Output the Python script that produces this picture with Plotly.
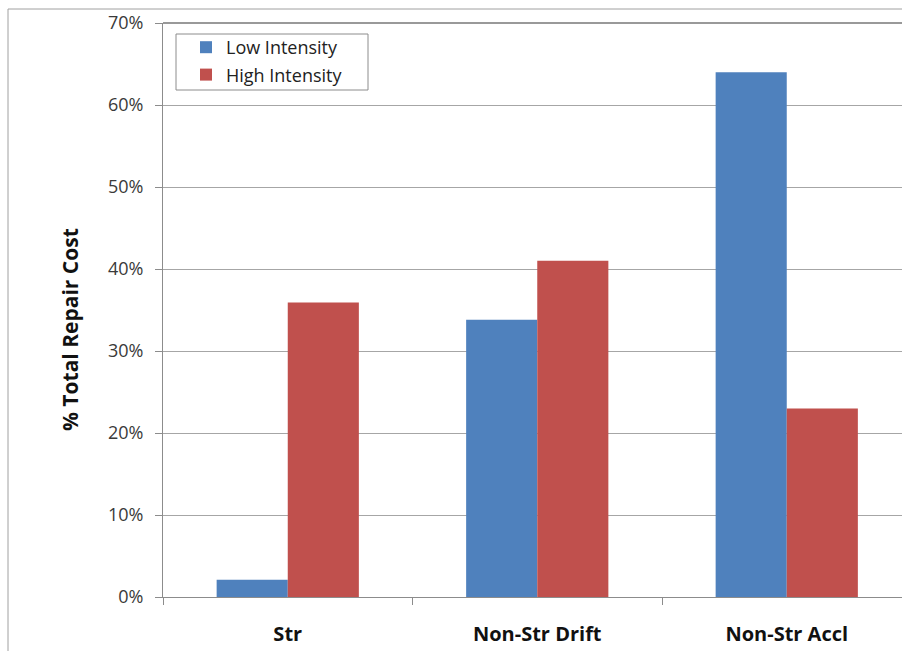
import plotly.graph_objects as go

categories = ["Str", "Non-Str Drift", "Non-Str Accl"]
low_intensity = [0.021, 0.338, 0.640]
high_intensity = [0.359, 0.410, 0.230]
y_ticks = [0, 0.1, 0.2, 0.3, 0.4, 0.5, 0.6, 0.7]

W, H = 902, 651
L, R, T, B = 163, 0, 23, 54
pw, ph = W - L - R, H - T - B

fig = go.Figure()
fig.add_trace(go.Bar(name="Low Intensity", x=categories, y=low_intensity, legendgroup="a",
                     marker=dict(color="#4F81BD", line=dict(width=0))))
fig.add_trace(go.Bar(name="High Intensity", x=categories, y=high_intensity, legendgroup="b",
                     marker=dict(color="#C0504D", line=dict(width=0))))

font_family = "'Open Sans', Lato, sans-serif"

fig.update_layout(
    width=W, height=H,
    margin=dict(l=L, r=R, t=T, b=B, pad=0),
    paper_bgcolor="white", plot_bgcolor="white",
    barmode="group", bargap=0.43, bargroupgap=0,
    font=dict(family=font_family, color="#333333"),
    legend=dict(
        x=(186 - L) / pw, y=1 - (29 - T) / ph, xanchor="left", yanchor="top",
        borderwidth=0, bgcolor="rgba(0,0,0,0)",
        font=dict(size=18, color="#222222", family=font_family),
        itemsizing="constant", traceorder="grouped", tracegroupgap=1,
    ),
    xaxis=dict(
        range=[-0.5, -0.5 + pw / 249.5],
        showgrid=False, showline=True, linecolor="#8c8c8c", linewidth=1,
        ticks="outside", tickson="boundaries", ticklen=7, tickcolor="#8c8c8c",
        tickfont=dict(size=20, color="#111111", family=font_family, weight="bold"),
        ticklabelstandoff=19,
    ),
    yaxis=dict(
        range=[0, 0.7], tickvals=y_ticks, tickformat=".0%",
        showgrid=True, gridcolor="#a6a6a6", gridwidth=1,
        showline=True, linecolor="#8c8c8c", linewidth=1,
        ticks="outside", ticklen=7, tickcolor="#8c8c8c",
        tickfont=dict(size=18, color="#3a3a3a", family=font_family),
        ticklabelstandoff=8,
        zeroline=False,
    ),
    annotations=[dict(text="<b>% Total Repair Cost</b>", xref="paper", yref="paper",
                      x=(70 - L) / pw, y=(597 - 330) / ph, xanchor="center", yanchor="middle",
                      textangle=-90, showarrow=False,
                      font=dict(size=21, color="#111111", family=font_family))],
    shapes=[
        dict(type="line", xref="paper", yref="paper",
             x0=(8 - L) / pw, x1=(8 - L) / pw, y0=-0.2, y1=1 + (T - 9) / ph,
             line=dict(color="#a0a0a0", width=1), layer="below"),
        dict(type="line", xref="paper", yref="paper",
             x0=(8 - L) / pw, x1=1.0, y0=1 + (T - 9) / ph, y1=1 + (T - 9) / ph,
             line=dict(color="#a0a0a0", width=1), layer="below"),
        dict(type="line", xref="paper", yref="paper",
             x0=0, x1=1.0, y0=1, y1=1,
             line=dict(color="#999999", width=2), layer="below"),
        dict(type="rect", xref="paper", yref="paper",
             x0=(176 - L) / pw, x1=(368 - L) / pw,
             y0=1 - (90 - T) / ph, y1=1 - (34 - T) / ph,
             line=dict(color="#8c8c8c", width=1), fillcolor="white",
             layer="above"),
    ],
)

fig.write_html("out.html", config={"displayModeBar": False},
               post_script="document.body.style.margin='0';document.body.style.overflow='hidden';")
